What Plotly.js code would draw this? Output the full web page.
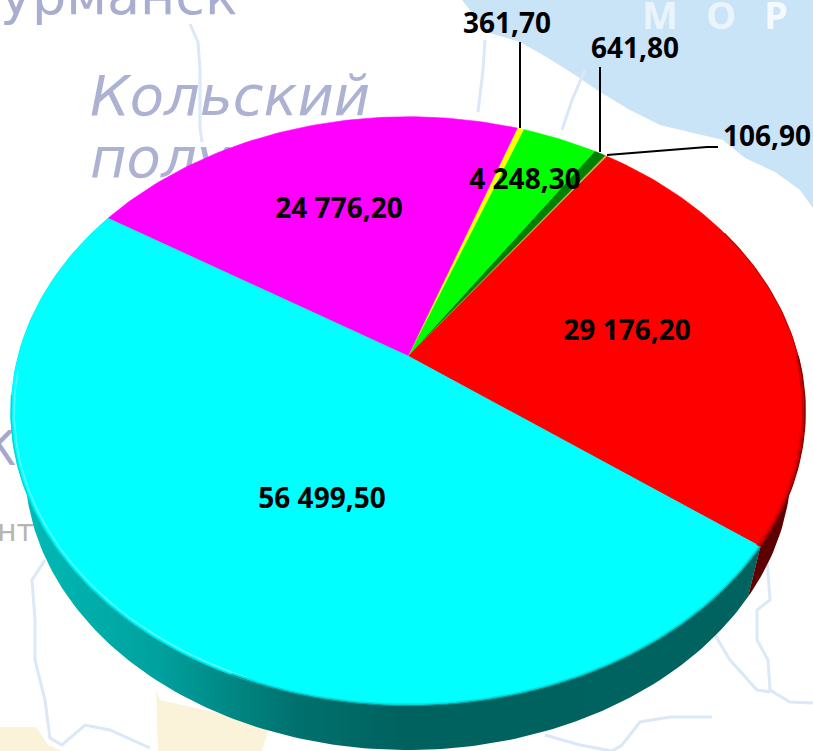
<!DOCTYPE html>
<html><head><meta charset="utf-8">
<script src="https://cdn.plot.ly/plotly-3.0.1.min.js"></script>
<style>html,body{margin:0;padding:0;background:#fff}#c{width:813px;height:751px}</style>
</head><body><div id="c"></div>
<script>
// ---- chart data ----
const values = [29176.2, 106.9, 641.8, 4248.3, 361.7, 24776.2, 56499.5];
const sliceColors = ['#ff0000','#e8a040','#008000','#00ff00','#ffff00','#ff00ff','#00ffff'];
const labelX = [627, 767, 635, 525, 507, 339, 322];
const labelY = [333, 139, 51, 182, 26, 211, 501];
// ---- pictured disc geometry ----
const startDeg = -36.6, cx = 408, cy = 356, ax = 390, by = 284, persp = 0.187;
const wallScale = 0.965, wallDrop = 55, midY = 411;

const proj = (deg, s=1, drop=0) => {
  const t = deg*Math.PI/180, X = Math.cos(t), Y = Math.sin(t), d = 1 + persp*Y;
  const x = cx + ax*X/d, y = cy - by*Y/d;
  return [cx + s*(x-cx), midY + drop + s*(y-midY)];
};
const arc = (a, b, s=1, drop=0) => {
  const n = Math.max(2, Math.ceil(Math.abs(b-a))), xs=[], ys=[];
  for (let i=0;i<=n;i++){ const p = proj(a+(b-a)*i/n, s, drop); xs.push(p[0]); ys.push(p[1]); }
  return [xs, ys];
};
const total = values.reduce((a,b)=>a+b,0);
const bounds = [startDeg];
values.forEach(v => bounds.push(bounds[bounds.length-1] + v/total*360));
const fmt = v => v.toFixed(2).replace('.',',').replace(/\B(?=(\d{3})+(?!\d))/g,' ');

const traces = [];
const noHover = {hoverinfo:'skip', showlegend:false};
const poly = (x,y,fill,extra={}) => traces.push(Object.assign({type:'scatter',mode:'lines',x,y,fill:'toself',fillcolor:fill,line:{width:0,color:fill}},noHover,extra));
const path = (x,y,color,width) => traces.push(Object.assign({type:'scatter',mode:'lines',x,y,line:{color,width}},noHover));
const txt = (x,y,t,size,color,font,pos,extra={}) => traces.push(Object.assign({type:'scatter',mode:'text',x:[x],y:[y],text:[t],textposition:pos||'middle center',textfont:Object.assign({size,color,family:font},extra)},noHover));

// ---- faded map backdrop ----
const seaX = [462,478,490,520,548,575,600,630,660,690,723,745,775,800,813,813];
const seaY = [0,20,33,42,58,75,92,110,125,132,140,158,172,190,208,0];
poly(seaX, seaY, '#c9e3f7');
const beigeA = [[156,158,250,262,270,160,156],[690,751,751,751,725,700,690]];
poly(beigeA[0], beigeA[1], '#fbf3d9');
poly([0,36,48,62,62,0],[727,727,745,751,751,751],'#fbf3d9');
const rivers = [
 [[190,198,200,200,200,202],[24,42,70,100,128,142]],
 [[485,483,478],[40,70,112]],
 [[585,572,562],[70,100,130]],
 [[45,32,35,35,45,50,62,85,110,150],[560,580,620,660,700,738,745,725,730,748]],
 [[767,770,757,757,768,770,790,813],[560,600,610,640,660,690,702,703]],
 [[715,730,757,770],[635,660,690,692]],
 [[545,580,612,622,640,670,712],[735,745,751,745,722,717,717]]
];
rivers.forEach(r => path(r[0], r[1], '#dbe8f7', 3));
txt(0,0,'урманск',54,'#a9adcf','DejaVu Sans','middle right');
txt(90,101,'Кольский',56,'#aeb2d2','DejaVu Sans','middle right',{style:'italic'});
txt(90,163,'полу',56,'#aeb2d2','DejaVu Sans','middle right',{style:'italic'});
txt(660,19,'М',38,'#eaf4fc','Open Sans','middle center',{weight:700});
txt(721,19,'О',38,'#eaf4fc','Open Sans','middle center',{weight:700});
txt(776,19,'Р',38,'#f5fafe','Open Sans','middle center',{weight:700});
txt(-18,453,'К',48,'#a5a8cc','DejaVu Sans','middle right');
txt(-3,533,'нт',30,'#b8b4ae','DejaVu Sans','middle right');

// ---- side wall ----
const wall = (a,b) => {
  const top = arc(a,b), bot = arc(b,a,wallScale,wallDrop);
  return [top[0].concat(bot[0]), top[1].concat(bot[1])];
};
const cyanWall = wall(bounds[6], bounds[7]);
poly(cyanWall[0], cyanWall[1], '#00635f', {fillgradient:{type:'horizontal',colorscale:[[0,'#00bdb9'],[0.2,'#00a09d'],[0.38,'#00716e'],[0.52,'#00625f'],[1,'#00635f']]}});
const redWall = wall(bounds[0], 5);
poly(redWall[0], redWall[1], '#5c0000');

// ---- top surface slices ----
values.forEach((v,i) => {
  const a = arc(bounds[i], bounds[i+1]);
  traces.push(Object.assign({type:'scatter',mode:'lines',x:[cx].concat(a[0],[cx]),y:[cy].concat(a[1],[cy]),
    fill:'toself',fillcolor:sliceColors[i],line:{width:0.6,color:sliceColors[i]}},noHover));
});

// ---- bevel at the rim ----
const rim = (a,b,s,color,w) => { const r = arc(a,b,s); path(r[0], r[1], color, w); };
rim(bounds[6]+35, 250, 0.992, '#55ffff', 1.5);
rim(bounds[6]+40, 250, 1.0, '#00d8d8', 1.5);
rim(248, 323.4, 1.0, '#009a98', 1.5);
rim(248, 323.4, 0.996, '#00e0e0', 1.5);
rim(bounds[0], 0, 1.0, '#8a0000', 1.8);
rim(bounds[0], 0, 0.995, '#c80000', 1.8);
rim(bounds[0], -15, 0.99, '#ee0000', 1.5);
rim(0, 28, 1.0, '#c80000', 1.2);

// ---- leader lines ----
path([520,520],[42,128],'#000',2);
path([600,600],[67,152],'#000',2);
path([607,707,718],[155,147,147],'#000',2);

// ---- value labels ----
values.forEach((v,i) => txt(labelX[i],labelY[i],fmt(v),28,'#000','Noto Sans','middle center',{weight:700}));

Plotly.newPlot('c', traces, {
  width:813, height:751, margin:{l:0,r:0,t:0,b:0},
  paper_bgcolor:'#ffffff', plot_bgcolor:'#ffffff', showlegend:false,
  xaxis:{range:[0,813],visible:false,fixedrange:true},
  yaxis:{range:[751,0],visible:false,fixedrange:true}
},{displayModeBar:false,staticPlot:true});
</script></body></html>
